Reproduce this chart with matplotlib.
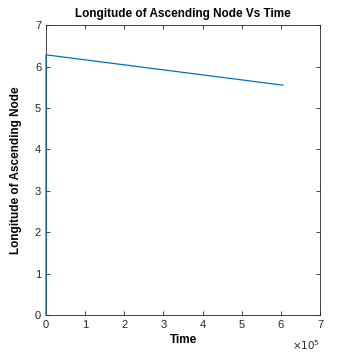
import matplotlib
matplotlib.use("Agg")
import matplotlib.pyplot as plt

time = [0, 0, 1.0e5, 2.0e5, 3.0e5, 4.0e5, 5.0e5, 6.05e5]
node = [0, 6.283, 6.162, 6.041, 5.920, 5.799, 5.678, 5.551]
xticks = [0, 1, 2, 3, 4, 5, 6, 7]
yticks = [0, 1, 2, 3, 4, 5, 6, 7]

plt.rcParams['font.family'] = ['Liberation Sans', 'DejaVu Sans']
fig = plt.figure(figsize=(3.54, 3.54), dpi=100)
ax = fig.add_axes([0.130, 0.110, 0.774, 0.819])
ax.plot(time, node, color='#0072BD', lw=0.9, clip_on=False, zorder=5)
ax.set_xlim(0, 7e5)
ax.set_ylim(0, 7)
ax.set_xticks([t * 1e5 for t in xticks])
ax.set_xticklabels([str(t) for t in xticks])
ax.set_yticks(yticks)
ax.set_yticklabels([str(t) for t in yticks])
ax.tick_params(direction='in', top=True, right=True, length=3, width=0.6,
               colors='#262626', labelsize=8, labelcolor='#262626')
for s in ax.spines.values():
    s.set_color('#262626')
    s.set_linewidth(0.6)
ax.set_title('Longitude of Ascending Node Vs Time', fontsize=8.5, fontweight='bold', pad=6)
ax.set_xlabel('Time', fontsize=8.5, fontweight='bold', labelpad=3)
ax.set_ylabel('Longitude of Ascending Node', fontsize=8.5, fontweight='bold', labelpad=9)
ax.text(1.0, -0.08, r'$\times10^{5}$', transform=ax.transAxes, ha='right', va='top',
        fontsize=7.5, color='#262626')
fig.savefig('out.png', dpi=100)
